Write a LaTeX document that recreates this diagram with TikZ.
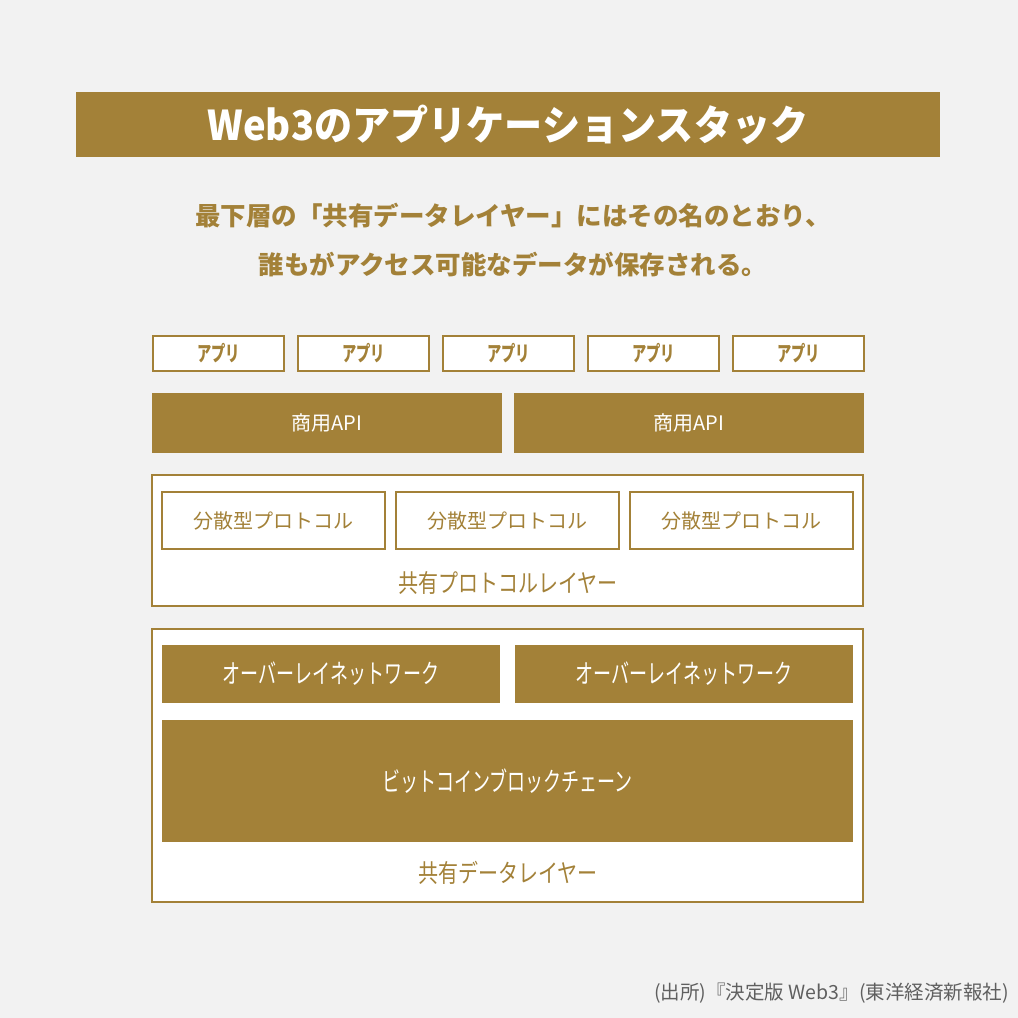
\documentclass[tikz,border=0pt]{standalone}
\usepackage{fontspec}
\setmainfont{Noto Sans CJK JP}
\newfontfamily\titlefont[FakeStretch=0.93]{Noto Sans CJK JP}
\newfontfamily\condfont[FakeStretch=0.68]{Noto Sans CJK JP}
\newfontfamily\narrowfont[FakeStretch=0.8]{Noto Sans CJK JP}
\usepackage{tikz}
\usetikzlibrary{positioning}

\definecolor{gold}{RGB}{163,129,56}
\definecolor{paper}{RGB}{242,242,242}
\definecolor{notegray}{RGB}{95,95,95}

\begin{document}
\begin{tikzpicture}[
  x=1pt, y=-1pt,
  titlebar/.style={fill=gold, text=white, inner sep=0pt, outer sep=0pt,
    minimum width=864pt, minimum height=65pt,
    font=\titlefont\bfseries\fontsize{41}{41}\selectfont},
  appbox/.style={draw=gold, line width=2pt, fill=white, inner sep=0pt,
    outer sep=0pt, minimum width=131pt, minimum height=35pt, text=gold,
    font=\condfont\bfseries\fontsize{21}{21}\selectfont},
  goldbox/.style={fill=gold, text=white, inner sep=0pt, outer sep=0pt,
    font=\condfont\fontsize{26.5}{27}\selectfont},
  apibox/.style={fill=gold, text=white, inner sep=0pt, outer sep=0pt,
    minimum width=350pt, minimum height=60pt,
    font=\fontsize{20}{20}\selectfont},
  protobox/.style={draw=gold, line width=2pt, fill=white, inner sep=0pt,
    outer sep=0pt, minimum width=223pt, minimum height=57pt, text=gold,
    font=\fontsize{20}{20}\selectfont},
  layerbox/.style={draw=gold, line width=2pt, fill=white, inner sep=0pt,
    outer sep=0pt, minimum width=711pt},
  layerlabel/.style={text=gold, inner sep=0pt,
    font=\narrowfont\fontsize{25}{25}\selectfont}
]

% background
\fill[paper] (0,0) rectangle (1018,1018);
\useasboundingbox (0,0) rectangle (1018,1018);

% Title
\node[titlebar] (title) at (508,124.5) {Web3のアプリケーションスタック};

% Lead text
\node[text=gold, align=center, font=\bfseries\fontsize{25.5}{49}\selectfont]
  (lead) at (513,240.5)
  {最下層の「共有データレイヤー」にはその名のとおり、\\
   誰もがアクセス可能なデータが保存される。};

% Row 1: apps
\node[appbox] (app1) at (218.5,353.5) {アプリ};
\node[appbox, right=14pt of app1] (app2) {アプリ};
\node[appbox, right=14pt of app2] (app3) {アプリ};
\node[appbox, right=14pt of app3] (app4) {アプリ};
\node[appbox, right=14pt of app4] (app5) {アプリ};

% Row 2: commercial APIs
\node[apibox] (api1) at (327,423) {商用API};
\node[apibox] (api2) at (689,423) {商用API};

% Shared protocol layer
\node[layerbox, minimum height=131pt] (protolayer) at (507.5,540.5) {};
\node[protobox] (proto1) at (273.5,520.5) {分散型プロトコル};
\node[protobox, right=11pt of proto1] (proto2) {分散型プロトコル};
\node[protobox, right=11pt of proto2] (proto3) {分散型プロトコル};
\node[layerlabel] (protolabel) at (508,583) {共有プロトコルレイヤー};

% Shared data layer
\node[layerbox, minimum height=273pt] (datalayer) at (507.5,765.5) {};
\node[goldbox, minimum width=338pt, minimum height=58pt] (overlay1)
  at (331,674) {オーバーレイネットワーク};
\node[goldbox, minimum width=338pt, minimum height=58pt] (overlay2)
  at (684,674) {オーバーレイネットワーク};
\node[goldbox, minimum width=691pt, minimum height=122pt] (chain)
  at (507.5,781) {ビットコインブロックチェーン};
\node[layerlabel] (datalabel) at (508,873) {共有データレイヤー};

% Source note
\node[anchor=east, text=notegray, inner sep=0pt,
  font=\fontsize{19.5}{20}\selectfont] (source) at (1009,993)
  {(出所)『決定版 Web3』(東洋経済新報社)};

\end{tikzpicture}
\end{document}
